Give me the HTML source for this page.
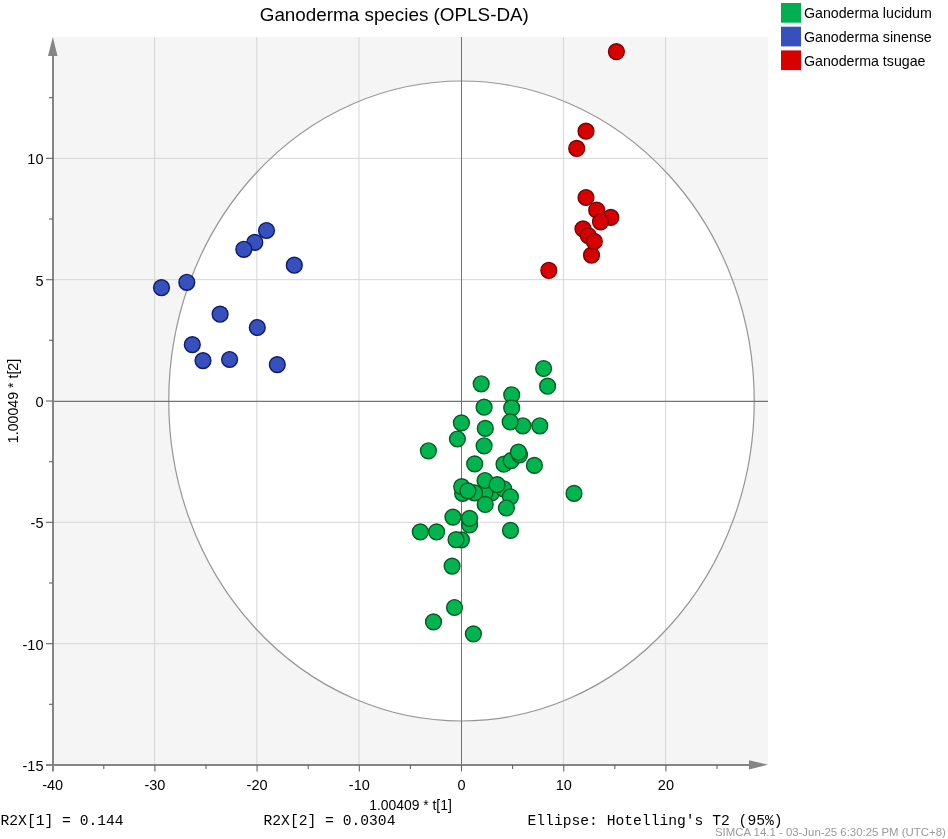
<!DOCTYPE html>
<html><head><meta charset="utf-8"><title>Ganoderma species (OPLS-DA)</title>
<style>
html,body{margin:0;padding:0;background:#fff;}
body{width:948px;height:839px;overflow:hidden;font-family:"Liberation Sans",sans-serif;}
svg{display:block;will-change:transform;}
</style></head><body>
<svg width="948" height="839" viewBox="0 0 948 839">
<rect x="53" y="37" width="715" height="728" fill="#f5f5f5"/>
<ellipse cx="461.5" cy="401" rx="292.75" ry="320" fill="#fff"/>
<line x1="154.60" y1="37" x2="154.60" y2="765" stroke="#d6d6d6" stroke-width="1"/>
<line x1="256.80" y1="37" x2="256.80" y2="765" stroke="#d6d6d6" stroke-width="1"/>
<line x1="359.00" y1="37" x2="359.00" y2="765" stroke="#d6d6d6" stroke-width="1"/>
<line x1="563.40" y1="37" x2="563.40" y2="765" stroke="#d6d6d6" stroke-width="1"/>
<line x1="665.60" y1="37" x2="665.60" y2="765" stroke="#d6d6d6" stroke-width="1"/>
<line x1="53" y1="158.33" x2="768" y2="158.33" stroke="#d6d6d6" stroke-width="1"/>
<line x1="53" y1="279.67" x2="768" y2="279.67" stroke="#d6d6d6" stroke-width="1"/>
<line x1="53" y1="522.34" x2="768" y2="522.34" stroke="#d6d6d6" stroke-width="1"/>
<line x1="53" y1="643.67" x2="768" y2="643.67" stroke="#d6d6d6" stroke-width="1"/>
<ellipse cx="461.5" cy="401" rx="292.75" ry="320" fill="none" stroke="#969696" stroke-width="1.2"/>
<line x1="461.5" y1="37" x2="461.5" y2="765" stroke="#737373" stroke-width="1"/>
<line x1="53" y1="401.3" x2="768" y2="401.3" stroke="#737373" stroke-width="1.2"/>
<line x1="53" y1="54" x2="53" y2="771.5" stroke="#858585" stroke-width="2"/>
<polygon points="52.8,37 48,56 57.5,56" fill="#858585"/>
<line x1="46" y1="765" x2="750" y2="765" stroke="#858585" stroke-width="2"/>
<polygon points="768,764.8 749,760.2 749,769.4" fill="#858585"/>
<line x1="46" y1="158.3" x2="53" y2="158.3" stroke="#666666" stroke-width="1.1"/>
<line x1="46" y1="279.7" x2="53" y2="279.7" stroke="#666666" stroke-width="1.1"/>
<line x1="46" y1="401.0" x2="53" y2="401.0" stroke="#666666" stroke-width="1.1"/>
<line x1="46" y1="522.3" x2="53" y2="522.3" stroke="#666666" stroke-width="1.1"/>
<line x1="46" y1="643.7" x2="53" y2="643.7" stroke="#666666" stroke-width="1.1"/>
<line x1="49" y1="97.7" x2="53" y2="97.7" stroke="#666666" stroke-width="1.1"/>
<line x1="49" y1="219.0" x2="53" y2="219.0" stroke="#666666" stroke-width="1.1"/>
<line x1="49" y1="340.3" x2="53" y2="340.3" stroke="#666666" stroke-width="1.1"/>
<line x1="49" y1="461.7" x2="53" y2="461.7" stroke="#666666" stroke-width="1.1"/>
<line x1="49" y1="583.0" x2="53" y2="583.0" stroke="#666666" stroke-width="1.1"/>
<line x1="49" y1="704.3" x2="53" y2="704.3" stroke="#666666" stroke-width="1.1"/>
<line x1="154.9" y1="765" x2="154.9" y2="771.5" stroke="#666666" stroke-width="1.1"/>
<line x1="257.1" y1="765" x2="257.1" y2="771.5" stroke="#666666" stroke-width="1.1"/>
<line x1="359.3" y1="765" x2="359.3" y2="771.5" stroke="#666666" stroke-width="1.1"/>
<line x1="461.5" y1="765" x2="461.5" y2="771.5" stroke="#666666" stroke-width="1.1"/>
<line x1="563.7" y1="765" x2="563.7" y2="771.5" stroke="#666666" stroke-width="1.1"/>
<line x1="665.9" y1="765" x2="665.9" y2="771.5" stroke="#666666" stroke-width="1.1"/>
<line x1="103.8" y1="765" x2="103.8" y2="769" stroke="#666666" stroke-width="1.1"/>
<line x1="206.0" y1="765" x2="206.0" y2="769" stroke="#666666" stroke-width="1.1"/>
<line x1="308.2" y1="765" x2="308.2" y2="769" stroke="#666666" stroke-width="1.1"/>
<line x1="410.4" y1="765" x2="410.4" y2="769" stroke="#666666" stroke-width="1.1"/>
<line x1="512.6" y1="765" x2="512.6" y2="769" stroke="#666666" stroke-width="1.1"/>
<line x1="614.8" y1="765" x2="614.8" y2="769" stroke="#666666" stroke-width="1.1"/>
<line x1="717.0" y1="765" x2="717.0" y2="769" stroke="#666666" stroke-width="1.1"/>
<circle cx="543.6" cy="368.5" r="7.9" fill="#00b54f" stroke="#005c20" stroke-width="1.4"/>
<circle cx="547.6" cy="386.2" r="7.9" fill="#00b54f" stroke="#005c20" stroke-width="1.4"/>
<circle cx="481.2" cy="383.8" r="7.9" fill="#00b54f" stroke="#005c20" stroke-width="1.4"/>
<circle cx="511.7" cy="394.8" r="7.9" fill="#00b54f" stroke="#005c20" stroke-width="1.4"/>
<circle cx="484.1" cy="407.2" r="7.9" fill="#00b54f" stroke="#005c20" stroke-width="1.4"/>
<circle cx="511.7" cy="407.9" r="7.9" fill="#00b54f" stroke="#005c20" stroke-width="1.4"/>
<circle cx="522.9" cy="425.8" r="7.9" fill="#00b54f" stroke="#005c20" stroke-width="1.4"/>
<circle cx="510.2" cy="421.9" r="7.9" fill="#00b54f" stroke="#005c20" stroke-width="1.4"/>
<circle cx="539.8" cy="425.8" r="7.9" fill="#00b54f" stroke="#005c20" stroke-width="1.4"/>
<circle cx="485.3" cy="428.4" r="7.9" fill="#00b54f" stroke="#005c20" stroke-width="1.4"/>
<circle cx="484.1" cy="445.8" r="7.9" fill="#00b54f" stroke="#005c20" stroke-width="1.4"/>
<circle cx="461.4" cy="422.9" r="7.9" fill="#00b54f" stroke="#005c20" stroke-width="1.4"/>
<circle cx="457.4" cy="439.0" r="7.9" fill="#00b54f" stroke="#005c20" stroke-width="1.4"/>
<circle cx="428.4" cy="450.8" r="7.9" fill="#00b54f" stroke="#005c20" stroke-width="1.4"/>
<circle cx="474.7" cy="463.9" r="7.9" fill="#00b54f" stroke="#005c20" stroke-width="1.4"/>
<circle cx="504.0" cy="464.2" r="7.9" fill="#00b54f" stroke="#005c20" stroke-width="1.4"/>
<circle cx="511.2" cy="460.6" r="7.9" fill="#00b54f" stroke="#005c20" stroke-width="1.4"/>
<circle cx="519.5" cy="454.8" r="7.9" fill="#00b54f" stroke="#005c20" stroke-width="1.4"/>
<circle cx="518.4" cy="452.2" r="7.9" fill="#00b54f" stroke="#005c20" stroke-width="1.4"/>
<circle cx="534.4" cy="465.4" r="7.9" fill="#00b54f" stroke="#005c20" stroke-width="1.4"/>
<circle cx="574.0" cy="493.4" r="7.9" fill="#00b54f" stroke="#005c20" stroke-width="1.4"/>
<circle cx="491.6" cy="492.9" r="7.9" fill="#00b54f" stroke="#005c20" stroke-width="1.4"/>
<circle cx="485.0" cy="493.0" r="7.9" fill="#00b54f" stroke="#005c20" stroke-width="1.4"/>
<circle cx="503.7" cy="488.8" r="7.9" fill="#00b54f" stroke="#005c20" stroke-width="1.4"/>
<circle cx="510.4" cy="496.8" r="7.9" fill="#00b54f" stroke="#005c20" stroke-width="1.4"/>
<circle cx="485.0" cy="480.5" r="7.9" fill="#00b54f" stroke="#005c20" stroke-width="1.4"/>
<circle cx="497.1" cy="484.7" r="7.9" fill="#00b54f" stroke="#005c20" stroke-width="1.4"/>
<circle cx="474.5" cy="492.9" r="7.9" fill="#00b54f" stroke="#005c20" stroke-width="1.4"/>
<circle cx="462.6" cy="493.3" r="7.9" fill="#00b54f" stroke="#005c20" stroke-width="1.4"/>
<circle cx="461.7" cy="486.7" r="7.9" fill="#00b54f" stroke="#005c20" stroke-width="1.4"/>
<circle cx="467.9" cy="490.9" r="7.9" fill="#00b54f" stroke="#005c20" stroke-width="1.4"/>
<circle cx="485.2" cy="504.4" r="7.9" fill="#00b54f" stroke="#005c20" stroke-width="1.4"/>
<circle cx="506.4" cy="508.0" r="7.9" fill="#00b54f" stroke="#005c20" stroke-width="1.4"/>
<circle cx="452.9" cy="517.1" r="7.9" fill="#00b54f" stroke="#005c20" stroke-width="1.4"/>
<circle cx="469.6" cy="525.0" r="7.9" fill="#00b54f" stroke="#005c20" stroke-width="1.4"/>
<circle cx="469.6" cy="518.4" r="7.9" fill="#00b54f" stroke="#005c20" stroke-width="1.4"/>
<circle cx="510.5" cy="530.4" r="7.9" fill="#00b54f" stroke="#005c20" stroke-width="1.4"/>
<circle cx="461.4" cy="539.9" r="7.9" fill="#00b54f" stroke="#005c20" stroke-width="1.4"/>
<circle cx="456.0" cy="539.7" r="7.9" fill="#00b54f" stroke="#005c20" stroke-width="1.4"/>
<circle cx="420.3" cy="531.9" r="7.9" fill="#00b54f" stroke="#005c20" stroke-width="1.4"/>
<circle cx="436.6" cy="531.9" r="7.9" fill="#00b54f" stroke="#005c20" stroke-width="1.4"/>
<circle cx="452.1" cy="566.1" r="7.9" fill="#00b54f" stroke="#005c20" stroke-width="1.4"/>
<circle cx="454.5" cy="607.5" r="7.9" fill="#00b54f" stroke="#005c20" stroke-width="1.4"/>
<circle cx="433.5" cy="621.9" r="7.9" fill="#00b54f" stroke="#005c20" stroke-width="1.4"/>
<circle cx="473.4" cy="633.9" r="7.9" fill="#00b54f" stroke="#005c20" stroke-width="1.4"/>
<circle cx="161.5" cy="287.7" r="7.9" fill="#3850be" stroke="#0b1a70" stroke-width="1.4"/>
<circle cx="186.8" cy="282.3" r="7.9" fill="#3850be" stroke="#0b1a70" stroke-width="1.4"/>
<circle cx="266.5" cy="230.5" r="7.9" fill="#3850be" stroke="#0b1a70" stroke-width="1.4"/>
<circle cx="254.8" cy="242.4" r="7.9" fill="#3850be" stroke="#0b1a70" stroke-width="1.4"/>
<circle cx="243.8" cy="249.3" r="7.9" fill="#3850be" stroke="#0b1a70" stroke-width="1.4"/>
<circle cx="294.3" cy="265.2" r="7.9" fill="#3850be" stroke="#0b1a70" stroke-width="1.4"/>
<circle cx="220.1" cy="314.2" r="7.9" fill="#3850be" stroke="#0b1a70" stroke-width="1.4"/>
<circle cx="257.3" cy="327.5" r="7.9" fill="#3850be" stroke="#0b1a70" stroke-width="1.4"/>
<circle cx="192.3" cy="344.6" r="7.9" fill="#3850be" stroke="#0b1a70" stroke-width="1.4"/>
<circle cx="203.0" cy="360.6" r="7.9" fill="#3850be" stroke="#0b1a70" stroke-width="1.4"/>
<circle cx="229.6" cy="359.5" r="7.9" fill="#3850be" stroke="#0b1a70" stroke-width="1.4"/>
<circle cx="277.3" cy="364.6" r="7.9" fill="#3850be" stroke="#0b1a70" stroke-width="1.4"/>
<circle cx="616.4" cy="51.6" r="7.9" fill="#d90000" stroke="#7a0000" stroke-width="1.4"/>
<circle cx="586.0" cy="131.2" r="7.9" fill="#d90000" stroke="#7a0000" stroke-width="1.4"/>
<circle cx="576.7" cy="148.4" r="7.9" fill="#d90000" stroke="#7a0000" stroke-width="1.4"/>
<circle cx="586.0" cy="197.5" r="7.9" fill="#d90000" stroke="#7a0000" stroke-width="1.4"/>
<circle cx="610.8" cy="217.4" r="7.9" fill="#d90000" stroke="#7a0000" stroke-width="1.4"/>
<circle cx="596.7" cy="210.2" r="7.9" fill="#d90000" stroke="#7a0000" stroke-width="1.4"/>
<circle cx="600.5" cy="221.8" r="7.9" fill="#d90000" stroke="#7a0000" stroke-width="1.4"/>
<circle cx="591.5" cy="255.2" r="7.9" fill="#d90000" stroke="#7a0000" stroke-width="1.4"/>
<circle cx="583.0" cy="228.9" r="7.9" fill="#d90000" stroke="#7a0000" stroke-width="1.4"/>
<circle cx="588.3" cy="235.7" r="7.9" fill="#d90000" stroke="#7a0000" stroke-width="1.4"/>
<circle cx="594.3" cy="241.4" r="7.9" fill="#d90000" stroke="#7a0000" stroke-width="1.4"/>
<circle cx="548.8" cy="270.3" r="7.9" fill="#d90000" stroke="#7a0000" stroke-width="1.4"/>
<text x="43.5" y="164.2" text-anchor="end" font-family="Liberation Sans" font-size="14.5" fill="#000">10</text>
<text x="43.5" y="285.6" text-anchor="end" font-family="Liberation Sans" font-size="14.5" fill="#000">5</text>
<text x="43.5" y="406.9" text-anchor="end" font-family="Liberation Sans" font-size="14.5" fill="#000">0</text>
<text x="43.5" y="528.2" text-anchor="end" font-family="Liberation Sans" font-size="14.5" fill="#000">-5</text>
<text x="43.5" y="649.6" text-anchor="end" font-family="Liberation Sans" font-size="14.5" fill="#000">-10</text>
<text x="43.5" y="770.9" text-anchor="end" font-family="Liberation Sans" font-size="14.5" fill="#000">-15</text>
<text x="52.7" y="790" text-anchor="middle" font-family="Liberation Sans" font-size="14.5" fill="#000">-40</text>
<text x="154.9" y="790" text-anchor="middle" font-family="Liberation Sans" font-size="14.5" fill="#000">-30</text>
<text x="257.1" y="790" text-anchor="middle" font-family="Liberation Sans" font-size="14.5" fill="#000">-20</text>
<text x="359.3" y="790" text-anchor="middle" font-family="Liberation Sans" font-size="14.5" fill="#000">-10</text>
<text x="461.5" y="790" text-anchor="middle" font-family="Liberation Sans" font-size="14.5" fill="#000">0</text>
<text x="563.7" y="790" text-anchor="middle" font-family="Liberation Sans" font-size="14.5" fill="#000">10</text>
<text x="665.9" y="790" text-anchor="middle" font-family="Liberation Sans" font-size="14.5" fill="#000">20</text>
<text x="410.5" y="809.5" text-anchor="middle" font-family="Liberation Sans" font-size="13.9" fill="#000">1.00409 * t[1]</text>
<text transform="translate(17.8,401) rotate(-90)" x="0" y="0" text-anchor="middle" font-family="Liberation Sans" font-size="14.2" fill="#000">1.00049 * t[2]</text>
<text x="394.3" y="20.9" text-anchor="middle" font-family="Liberation Sans" font-size="18.85" fill="#000">Ganoderma species (OPLS-DA)</text>
<rect x="781" y="3.0" width="20" height="19.7" fill="#00b050"/>
<text x="804" y="17.5" font-family="Liberation Sans" font-size="14.2" fill="#000">Ganoderma lucidum</text>
<rect x="781" y="26.7" width="20" height="19.7" fill="#3850be"/>
<text x="804" y="41.5" font-family="Liberation Sans" font-size="14.2" fill="#000">Ganoderma sinense</text>
<rect x="781" y="50.4" width="20" height="19.7" fill="#d80000"/>
<text x="804" y="65.5" font-family="Liberation Sans" font-size="14.2" fill="#000">Ganoderma tsugae</text>
<text x="0.5" y="824.6" font-family="Liberation Mono" font-size="14.67" fill="#000">R2X[1] = 0.144</text>
<text x="263.5" y="824.6" font-family="Liberation Mono" font-size="14.67" fill="#000">R2X[2] = 0.0304</text>
<text x="527.5" y="824.6" font-family="Liberation Mono" font-size="14.67" fill="#000">Ellipse: Hotelling's T2 (95%)</text>
<text x="715" y="835.9" font-family="Liberation Sans" font-size="11.4" fill="#9a9a9a">SIMCA 14.1 - 03-Jun-25 6:30:25 PM (UTC+8)</text>
</svg>
</body></html>
